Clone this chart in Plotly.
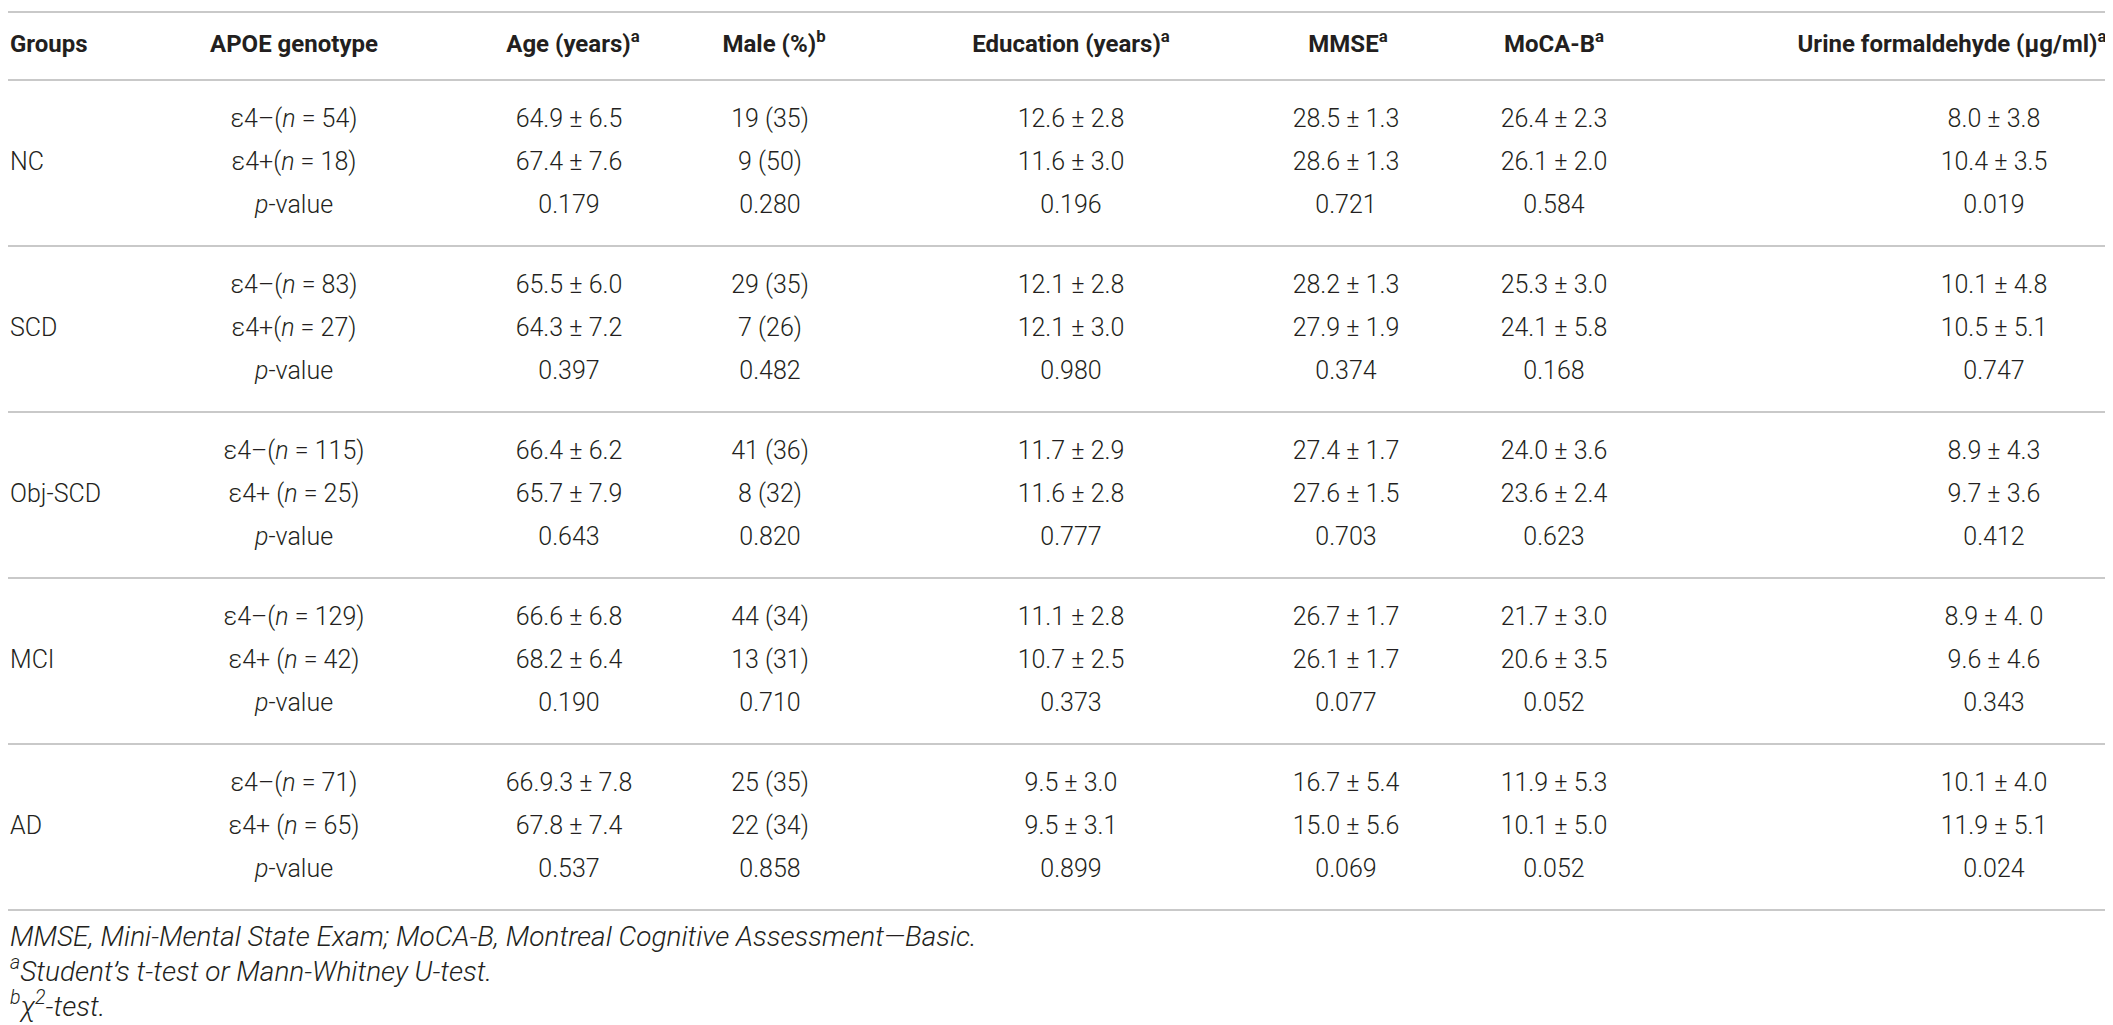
import plotly.graph_objects as go

# ---------------- data ----------------
headers = ["Groups", "APOE genotype", "Age (years)<sup>a</sup>", "Male (%)<sup>b</sup>",
           "Education (years)<sup>a</sup>", "MMSE<sup>a</sup>", "MoCA-B<sup>a</sup>",
           "Urine formaldehyde (\u03bcg/ml)<sup>a</sup>"]
groups = ["NC", "SCD", "Obj-SCD", "MCI", "AD"]
genotype = [
    "\u03b54\u2013(<i>n</i> = 54)", "\u03b54+(<i>n</i> = 18)", "<i>p</i>-value",
    "\u03b54\u2013(<i>n</i> = 83)", "\u03b54+(<i>n</i> = 27)", "<i>p</i>-value",
    "\u03b54\u2013(<i>n</i> = 115)", "\u03b54+ (<i>n</i> = 25)", "<i>p</i>-value",
    "\u03b54\u2013(<i>n</i> = 129)", "\u03b54+ (<i>n</i> = 42)", "<i>p</i>-value",
    "\u03b54\u2013(<i>n</i> = 71)", "\u03b54+ (<i>n</i> = 65)", "<i>p</i>-value",
]
age = ["64.9 \u00b1 6.5", "67.4 \u00b1 7.6", "0.179",
       "65.5 \u00b1 6.0", "64.3 \u00b1 7.2", "0.397",
       "66.4 \u00b1 6.2", "65.7 \u00b1 7.9", "0.643",
       "66.6 \u00b1 6.8", "68.2 \u00b1 6.4", "0.190",
       "66.9.3 \u00b1 7.8", "67.8 \u00b1 7.4", "0.537"]
male = ["19 (35)", "9 (50)", "0.280",
        "29 (35)", "7 (26)", "0.482",
        "41 (36)", "8 (32)", "0.820",
        "44 (34)", "13 (31)", "0.710",
        "25 (35)", "22 (34)", "0.858"]
education = ["12.6 \u00b1 2.8", "11.6 \u00b1 3.0", "0.196",
             "12.1 \u00b1 2.8", "12.1 \u00b1 3.0", "0.980",
             "11.7 \u00b1 2.9", "11.6 \u00b1 2.8", "0.777",
             "11.1 \u00b1 2.8", "10.7 \u00b1 2.5", "0.373",
             "9.5 \u00b1 3.0", "9.5 \u00b1 3.1", "0.899"]
mmse = ["28.5 \u00b1 1.3", "28.6 \u00b1 1.3", "0.721",
        "28.2 \u00b1 1.3", "27.9 \u00b1 1.9", "0.374",
        "27.4 \u00b1 1.7", "27.6 \u00b1 1.5", "0.703",
        "26.7 \u00b1 1.7", "26.1 \u00b1 1.7", "0.077",
        "16.7 \u00b1 5.4", "15.0 \u00b1 5.6", "0.069"]
moca = ["26.4 \u00b1 2.3", "26.1 \u00b1 2.0", "0.584",
        "25.3 \u00b1 3.0", "24.1 \u00b1 5.8", "0.168",
        "24.0 \u00b1 3.6", "23.6 \u00b1 2.4", "0.623",
        "21.7 \u00b1 3.0", "20.6 \u00b1 3.5", "0.052",
        "11.9 \u00b1 5.3", "10.1 \u00b1 5.0", "0.052"]
urine = ["8.0 \u00b1 3.8", "10.4 \u00b1 3.5", "0.019",
         "10.1 \u00b1 4.8", "10.5 \u00b1 5.1", "0.747",
         "8.9 \u00b1 4.3", "9.7 \u00b1 3.6", "0.412",
         "8.9 \u00b1 4. 0", "9.6 \u00b1 4.6", "0.343",
         "10.1 \u00b1 4.0", "11.9 \u00b1 5.1", "0.024"]
footnotes = [
    "<i>MMSE, Mini-Mental State Exam; MoCA-B, Montreal Cognitive Assessment\u2014Basic.</i>",
    "<i><sup>a</sup>Student\u2019s t-test or Mann-Whitney U-test.</i>",
    "<i><sup>b</sup>\u03c7<sup>2</sup>-test.</i>",
]

# ---------------- layout constants ----------------
W, H = 2113, 1025
col_x = [2, 286, 561, 762, 1063, 1338, 1546, 1986]
head_x = [2, 286, 565, 766, 1063, 1340, 1546, 1944]
top_line = 4
head_line = 72
group_h = 166
row_off = [41, 84, 127]
header_y = 38
foot_y = [931, 966, 1001]
text_color = "#231f20"
line_color = "#c9c9c9"
FONT = "Roboto"
data_font = dict(family=FONT, size=25, color=text_color, weight=300)
head_font = dict(family=FONT, size=24, color=text_color, weight=700)
foot_font = dict(family=FONT, size=28, color=text_color, weight=300)

fig = go.Figure()

# header
fig.add_trace(go.Scatter(
    x=head_x[1:], y=[header_y] * (len(headers) - 1), mode="text",
    text=headers[1:], textposition="middle center", textfont=head_font,
    hoverinfo="skip", showlegend=False))
fig.add_trace(go.Scatter(
    x=[head_x[0]], y=[header_y], mode="text", text=[headers[0]],
    textposition="middle right", textfont=head_font, hoverinfo="skip", showlegend=False))

# body rows
row_y = []
for g in range(len(groups)):
    for r in row_off:
        row_y.append(head_line + g * group_h + r)

for ci, col in enumerate([genotype, age, male, education, mmse, moca, urine], start=1):
    fig.add_trace(go.Scatter(
        x=[col_x[ci]] * len(col), y=row_y, mode="text", text=col,
        textposition="middle center", textfont=data_font,
        hoverinfo="skip", showlegend=False))

group_y = [head_line + g * group_h + row_off[1] for g in range(len(groups))]
fig.add_trace(go.Scatter(
    x=[col_x[0]] * len(groups), y=group_y, mode="text", text=groups,
    textposition="middle right", textfont=data_font, hoverinfo="skip", showlegend=False))

# footnotes
fig.add_trace(go.Scatter(
    x=[2] * len(footnotes), y=foot_y, mode="text", text=footnotes,
    textposition="middle right", textfont=foot_font,
    hoverinfo="skip", showlegend=False))

# rules
lines_y = [top_line, head_line] + [head_line + (g + 1) * group_h for g in range(len(groups))]
for ly in lines_y:
    fig.add_shape(type="line", x0=0, x1=W, y0=ly, y1=ly, xref="x", yref="y",
                  line=dict(color=line_color, width=2))

fig.update_layout(
    width=W, height=H, margin=dict(l=0, r=0, t=0, b=0),
    paper_bgcolor="white", plot_bgcolor="white",
    xaxis=dict(range=[0, W], visible=False, fixedrange=True),
    yaxis=dict(range=[H, 0], visible=False, fixedrange=True),
)
fig.write_html("out.html")
